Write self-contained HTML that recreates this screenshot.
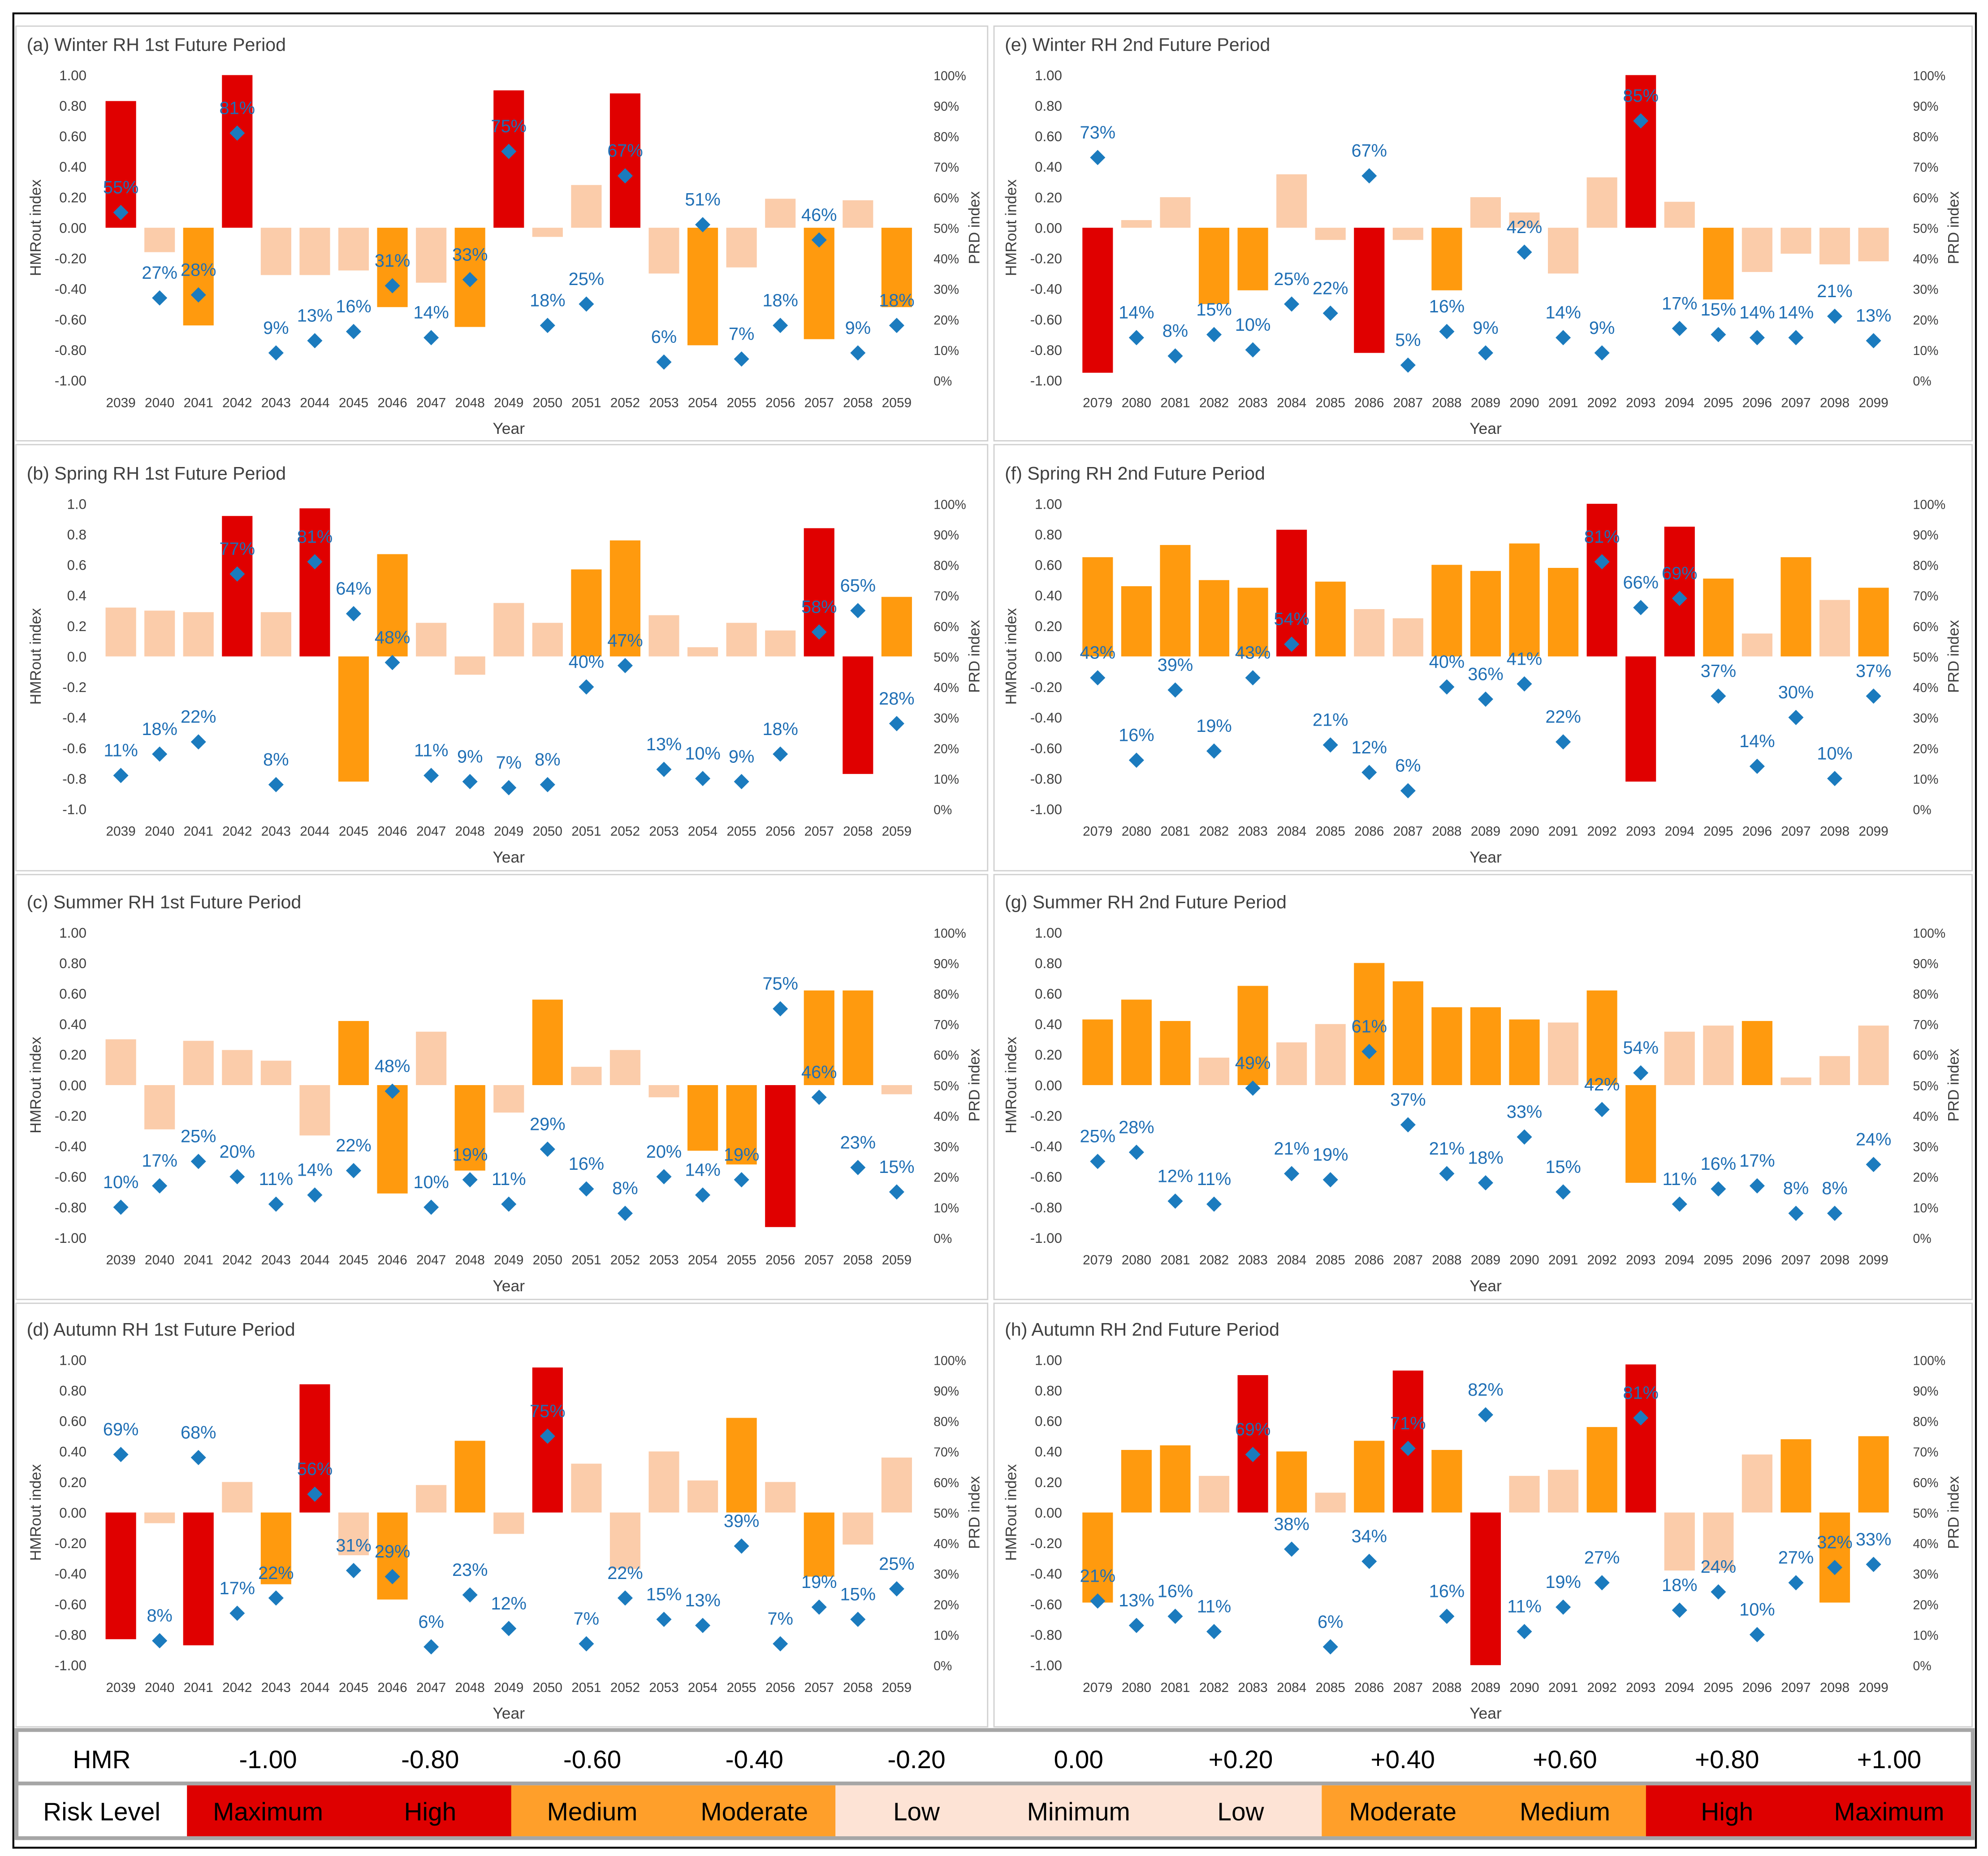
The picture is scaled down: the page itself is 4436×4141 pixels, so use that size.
<!DOCTYPE html>
<html><head><meta charset="utf-8"><style>
html,body{margin:0;padding:0;background:#fff;}
svg{display:block;font-family:"Liberation Sans",sans-serif;}
</style></head><body>
<svg id="chart" width="4436" height="4141" viewBox="0 0 1563 1459" xmlns="http://www.w3.org/2000/svg">
<rect x="0" y="0" width="1563" height="1459" fill="#fff"/>
<rect x="10.5" y="10.5" width="1543" height="1442" fill="none" stroke="#000" stroke-width="1.5"/>
<g id="panels"></g>
<g id="legend"></g>
</svg>
<script>
const years1 = [2039,2040,2041,2042,2043,2044,2045,2046,2047,2048,2049,2050,2051,2052,2053,2054,2055,2056,2057,2058,2059];
const years2 = [2079,2080,2081,2082,2083,2084,2085,2086,2087,2088,2089,2090,2091,2092,2093,2094,2095,2096,2097,2098,2099];
const hmrTicks2 = ["1.00","0.80","0.60","0.40","0.20","0.00","-0.20","-0.40","-0.60","-0.80","-1.00"];
const hmrTicks1 = ["1.0","0.8","0.6","0.4","0.2","0.0","-0.2","-0.4","-0.6","-0.8","-1.0"];
const prdTicks = ["100%","90%","80%","70%","60%","50%","40%","30%","20%","10%","0%"];

const winter1Values = [0.83,-0.16,-0.64,1.00,-0.31,-0.31,-0.28,-0.52,-0.36,-0.65,0.90,-0.06,0.28,0.88,-0.30,-0.77,-0.26,0.19,-0.73,0.18,-0.52];
const winter1Risk = ["r","l","o","r","l","l","l","o","l","o","r","l","l","r","l","o","l","l","o","l","o"];
const winter1Prd = [55,27,28,81,9,13,16,31,14,33,75,18,25,67,6,51,7,18,46,9,18];

const winter2Values = [-0.95,0.05,0.20,-0.50,-0.41,0.35,-0.08,-0.82,-0.08,-0.41,0.20,0.10,-0.30,0.33,1.00,0.17,-0.47,-0.29,-0.17,-0.24,-0.22];
const winter2Risk = ["r","l","l","o","o","l","l","r","l","o","l","l","l","l","r","l","o","l","l","l","l"];
const winter2Prd = [73,14,8,15,10,25,22,67,5,16,9,42,14,9,85,17,15,14,14,21,13];

const spring1Values = [0.32,0.30,0.29,0.92,0.29,0.97,-0.82,0.67,0.22,-0.12,0.35,0.22,0.57,0.76,0.27,0.06,0.22,0.17,0.84,-0.77,0.39];
const spring1Risk = ["l","l","l","r","l","r","o","o","l","l","l","l","o","o","l","l","l","l","r","r","o"];
const spring1Prd = [11,18,22,77,8,81,64,48,11,9,7,8,40,47,13,10,9,18,58,65,28];

const spring2Values = [0.65,0.46,0.73,0.50,0.45,0.83,0.49,0.31,0.25,0.60,0.56,0.74,0.58,1.00,-0.82,0.85,0.51,0.15,0.65,0.37,0.45];
const spring2Risk = ["o","o","o","o","o","r","o","l","l","o","o","o","o","r","r","r","o","l","o","l","o"];
const spring2Prd = [43,16,39,19,43,54,21,12,6,40,36,41,22,81,66,69,37,14,30,10,37];

const summer1Values = [0.30,-0.29,0.29,0.23,0.16,-0.33,0.42,-0.71,0.35,-0.56,-0.18,0.56,0.12,0.23,-0.08,-0.43,-0.52,-0.93,0.62,0.62,-0.06];
const summer1Risk = ["l","l","l","l","l","l","o","o","l","o","l","o","l","l","l","o","o","r","o","o","l"];
const summer1Prd = [10,17,25,20,11,14,22,48,10,19,11,29,16,8,20,14,19,75,46,23,15];

const summer2Values = [0.43,0.56,0.42,0.18,0.65,0.28,0.40,0.80,0.68,0.51,0.51,0.43,0.41,0.62,-0.64,0.35,0.39,0.42,0.05,0.19,0.39];
const summer2Risk = ["o","o","o","l","o","l","l","o","o","o","o","o","l","o","o","l","l","o","l","l","l"];
const summer2Prd = [25,28,12,11,49,21,19,61,37,21,18,33,15,42,54,11,16,17,8,8,24];

const autumn1Values = [-0.83,-0.07,-0.87,0.20,-0.47,0.84,-0.28,-0.57,0.18,0.47,-0.14,0.95,0.32,-0.37,0.40,0.21,0.62,0.20,-0.42,-0.21,0.36];
const autumn1Risk = ["r","l","r","l","o","r","l","o","l","o","l","r","l","l","l","l","o","l","o","l","l"];
const autumn1Prd = [69,8,68,17,22,56,31,29,6,23,12,75,7,22,15,13,39,7,19,15,25];

const autumn2Values = [-0.59,0.41,0.44,0.24,0.90,0.40,0.13,0.47,0.93,0.41,-1.00,0.24,0.28,0.56,0.97,-0.38,-0.38,0.38,0.48,-0.59,0.50];
const autumn2Risk = ["o","o","o","l","r","o","l","o","r","o","r","l","l","o","r","l","l","l","o","o","o"];
const autumn2Prd = [21,13,16,11,69,38,6,34,71,16,82,11,19,27,81,18,24,10,27,32,33];

const legendHmr = ["-1.00","-0.80","-0.60","-0.40","-0.20","0.00","+0.20","+0.40","+0.60","+0.80","+1.00"];
const legendRisk = ["Maximum","High","Medium","Moderate","Low","Minimum","Low","Moderate","Medium","High","Maximum"];
const legendRiskCat = ["r","r","o","o","l","l","l","o","o","r","r"];

const NS = "http://www.w3.org/2000/svg";
const barColor = {r:"#E00000", o:"#FF9A0E", l:"#FBCCAA"};
const legColor = {r:"#DE0000", o:"#FF9F2A", l:"#FDE3D5"};
function mk(tag, attrs, parent, text){
  const e=document.createElementNS(NS,tag);
  for(const k in attrs) e.setAttribute(k,attrs[k]);
  if(text!==undefined) e.textContent=text;
  parent.appendChild(e);
  return e;
}

const panels = [
  {id:"a",title:"(a) Winter RH 1st Future Period",col:0,row:0,years:years1,v:winter1Values,c:winter1Risk,p:winter1Prd,t:hmrTicks2},
  {id:"e",title:"(e) Winter RH 2nd Future Period",col:1,row:0,years:years2,v:winter2Values,c:winter2Risk,p:winter2Prd,t:hmrTicks2},
  {id:"b",title:"(b) Spring RH 1st Future Period",col:0,row:1,years:years1,v:spring1Values,c:spring1Risk,p:spring1Prd,t:hmrTicks1},
  {id:"f",title:"(f) Spring RH 2nd Future Period",col:1,row:1,years:years2,v:spring2Values,c:spring2Risk,p:spring2Prd,t:hmrTicks2},
  {id:"c",title:"(c) Summer RH 1st Future Period",col:0,row:2,years:years1,v:summer1Values,c:summer1Risk,p:summer1Prd,t:hmrTicks2},
  {id:"g",title:"(g) Summer RH 2nd Future Period",col:1,row:2,years:years2,v:summer2Values,c:summer2Risk,p:summer2Prd,t:hmrTicks2},
  {id:"d",title:"(d) Autumn RH 1st Future Period",col:0,row:3,years:years1,v:autumn1Values,c:autumn1Risk,p:autumn1Prd,t:hmrTicks2},
  {id:"h",title:"(h) Autumn RH 2nd Future Period",col:1,row:3,years:years2,v:autumn2Values,c:autumn2Risk,p:autumn2Prd,t:hmrTicks2}
];
const rowTop=[59,396,733,1069];
const boxTop=[20,349,687,1024], boxBot=[346,684,1021,1357];
const root=document.getElementById("panels");

panels.forEach(P=>{
  const g=mk("g",{},root);
  
  
  const bx = P.col===0?12:781, bw = P.col===0?764:769;
  mk("rect",{x:bx+0.5,y:boxTop[P.row]+0.5,width:bw,height:boxBot[P.row]-boxTop[P.row],fill:"#fff",stroke:"#d0d0d0","stroke-width":1},g);
  const top=rowTop[P.row];
  const yH=v=>top+120*(1-v);
  const yP=p=>top+240*(1-p/100);
  const x0 = P.col===0?95:863;
  const xC=i=>x0+i*30.5;
  const t=mk("text",{x:bx+9,y:top-19,"font-size":14.5,fill:"#404040"},g,P.title);
  
  
  const lx = P.col===0?68:835, rx = P.col===0?734:1504;
  P.t.forEach((s,i)=>{
    const e=mk("text",{x:lx,y:top+i*24+4,"font-size":11,"text-anchor":"end",fill:"#404040"},g,s);
    
    
  });
  prdTicks.forEach((s,i)=>{
    const e=mk("text",{x:rx,y:top+i*24+4,"font-size":10,fill:"#404040"},g,s);
    
    
  });
  const ltx = P.col===0?32:799, rtx = P.col===0?770:1540;
  const yt=mk("text",{x:ltx,y:top+120,"font-size":12,"text-anchor":"middle",fill:"#404040",transform:`rotate(-90 ${ltx} ${top+120})`},g,"HMRout index");
  
  
  const rt=mk("text",{x:rtx,y:top+120,"font-size":12,"text-anchor":"middle",fill:"#404040",transform:`rotate(-90 ${rtx} ${top+120})`},g,"PRD index");
  
  
  P.years.forEach((yr,i)=>{
    const e=mk("text",{x:xC(i),y:top+261,"font-size":10.5,"text-anchor":"middle",fill:"#404040"},g,String(yr));
    
    
  });
  const xt=mk("text",{x:(xC(0)+xC(20))/2,y:top+282,"font-size":12.5,"text-anchor":"middle",fill:"#404040"},g,"Year");
  
  
  P.v.forEach((v,i)=>{
    const y1=Math.min(yH(v),yH(0)), h=Math.abs(yH(v)-yH(0));
    const b=mk("rect",{x:xC(i)-12,y:y1,width:24,height:h,fill:barColor[P.c[i]]},g);
    
    
  });
  P.p.forEach((p,i)=>{
    const cx=xC(i), cy=yP(p);
    const d=mk("path",{d:`M${cx} ${cy-6}L${cx+6} ${cy}L${cx} ${cy+6}L${cx-6} ${cy}Z`,fill:"#1B7BBE"},g);
    
    
    const l=mk("text",{x:cx,y:cy-15,"font-size":14,"text-anchor":"middle",fill:"#1F6FB5"},g,p+"%");
    
    
  });
});

const lg=document.getElementById("legend");
mk("rect",{x:13,y:1360,width:1538,height:85,fill:"#fff",stroke:"#a6a6a6","stroke-width":3},lg);
const c0=14, cw=(1549-147)/11;
const h1=mk("text",{x:80,y:1390,"font-size":20,"text-anchor":"middle",fill:"#000"},lg,"HMR");


legendHmr.forEach((s,i)=>{
  const e=mk("text",{x:147+cw*(i+0.5),y:1390,"font-size":20,"text-anchor":"middle",fill:"#000"},lg,s);
  
  
});
mk("line",{x1:14,y1:1402,x2:1550,y2:1402,stroke:"#a6a6a6","stroke-width":3},lg);
legendRiskCat.forEach((c,i)=>{
  const r=mk("rect",{x:147+cw*i,y:1403.5,width:cw+0.6,height:40,fill:legColor[c]},lg);
  
  
});
const h2=mk("text",{x:80,y:1431,"font-size":20,"text-anchor":"middle",fill:"#000"},lg,"Risk Level");


legendRisk.forEach((s,i)=>{
  const e=mk("text",{x:147+cw*(i+0.5),y:1431,"font-size":20,"text-anchor":"middle",fill:"#000"},lg,s);
  
  
});
</script>
</body></html>
